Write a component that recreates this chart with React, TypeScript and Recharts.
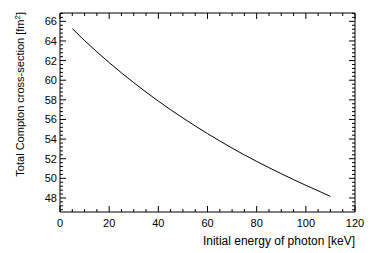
import React from "react";
import { Line, LineChart, XAxis, YAxis, Label } from "recharts";

const energies = [5, 10, 15, 20, 25, 30, 35, 40, 45, 50, 55, 60, 65, 70, 75, 80, 85, 90, 95, 100, 105, 110];
const crossSections = [
  65.25, 64.04, 62.89, 61.8, 60.75, 59.75, 58.79, 57.87, 56.99, 56.15, 55.34, 54.56, 53.81, 53.08, 52.39,
  51.73, 51.09, 50.47, 49.87, 49.29, 48.73, 48.16,
];

const xMajorLabels = [0, 20, 40, 60, 80, 100, 120];
const yMajorLabels = [48, 50, 52, 54, 56, 58, 60, 62, 64, 66];

const xTitle = "Initial energy of photon [keV]";
const yTitle = "Total Compton cross-section [fm";

const data = energies.map((e, i) => ({ energy: e, sigma: crossSections[i] }));

// minor ticks: 4 per x division of 20, 5 per y division of 2
const xTicks = Array.from({ length: 25 }, (_, i) => i * 5);
const yTicks = Array.from({ length: 51 }, (_, i) => Math.round((46.8 + i * 0.4) * 10) / 10);

const FONT = "'Liberation Sans', Arial, Helvetica, sans-serif";
const isXMajor = (v: number) => xMajorLabels.includes(v);
const isYMajor = (v: number) => yMajorLabels.some((m) => Math.abs(m - v) < 1e-6);

const BottomTick = (props: any) => {
  const { x, y, payload } = props;
  const major = isXMajor(payload.value);
  return (
    <g>
      <line x1={x} x2={x} y1={y} y2={y - (major ? 6 : 3)} stroke="#000" />
      {major && (
        <text x={x} y={y + 15} textAnchor="middle" fontSize={11} fontFamily={FONT} fill="#000">
          {payload.value}
        </text>
      )}
    </g>
  );
};

const TopTick = (props: any) => {
  const { x, y, payload } = props;
  const major = isXMajor(payload.value);
  return <line x1={x} x2={x} y1={y} y2={y + (major ? 6 : 3)} stroke="#000" />;
};

const LeftTick = (props: any) => {
  const { x, y, payload } = props;
  const major = isYMajor(payload.value);
  return (
    <g>
      <line x1={x} x2={x + (major ? 6 : 3)} y1={y} y2={y} stroke="#000" />
      {major && (
        <text x={x - 3} y={y + 4} textAnchor="end" fontSize={11} fontFamily={FONT} fill="#000">
          {Math.round(payload.value)}
        </text>
      )}
    </g>
  );
};

const RightTick = (props: any) => {
  const { x, y, payload } = props;
  const major = isYMajor(payload.value);
  return <line x1={x} x2={x - (major ? 6 : 3)} y1={y} y2={y} stroke="#000" />;
};

export default function App() {
  return (
    <div style={{ position: "absolute", left: 0, top: 0, width: 374, height: 253, background: "#fff" }}>
      <LineChart width={374} height={253} data={data} margin={{ top: 12, right: 18, bottom: 0, left: 0 }}>
        <XAxis
          dataKey="energy"
          type="number"
          domain={[0, 120]}
          ticks={xTicks}
          interval={0}
          height={41}
          tickSize={0}
          tickMargin={0}
          tickLine={false}
          tick={<BottomTick />}
          axisLine={{ stroke: "#000" }}
          allowDataOverflow
        >
          <Label
            content={() => (
              <text x={355} y={245} textAnchor="end" fontSize={12} fontFamily={FONT} fill="#000">
                {xTitle}
              </text>
            )}
          />
        </XAxis>
        <XAxis
          xAxisId="top"
          orientation="top"
          dataKey="energy"
          type="number"
          domain={[0, 120]}
          ticks={xTicks}
          interval={0}
          height={1}
          tickSize={0}
          tickMargin={0}
          tickLine={false}
          tick={<TopTick />}
          axisLine={{ stroke: "#000" }}
          allowDataOverflow
        />
        <YAxis
          type="number"
          domain={[46.57, 66.85]}
          ticks={yTicks}
          interval={0}
          width={60}
          tickSize={0}
          tickMargin={0}
          tickLine={false}
          tick={<LeftTick />}
          axisLine={{ stroke: "#000" }}
          allowDataOverflow
        >
          <Label
            content={() => (
              <text
                transform="rotate(-90)"
                x={-12}
                y={24}
                textAnchor="end"
                fontSize={11}
                fontFamily={FONT}
                fill="#000"
              >
                {yTitle}
                <tspan dy={-4} fontSize={8}>
                  2
                </tspan>
                <tspan dy={4}>]</tspan>
              </text>
            )}
          />
        </YAxis>
        <YAxis
          yAxisId="right"
          orientation="right"
          type="number"
          domain={[46.57, 66.85]}
          ticks={yTicks}
          interval={0}
          width={1}
          tickSize={0}
          tickMargin={0}
          tickLine={false}
          tick={<RightTick />}
          axisLine={{ stroke: "#000" }}
          allowDataOverflow
        />
        <Line
          type="monotone"
          dataKey="sigma"
          stroke="#000"
          strokeWidth={1}
          dot={false}
          isAnimationActive={false}
        />
      </LineChart>
    </div>
  );
}
